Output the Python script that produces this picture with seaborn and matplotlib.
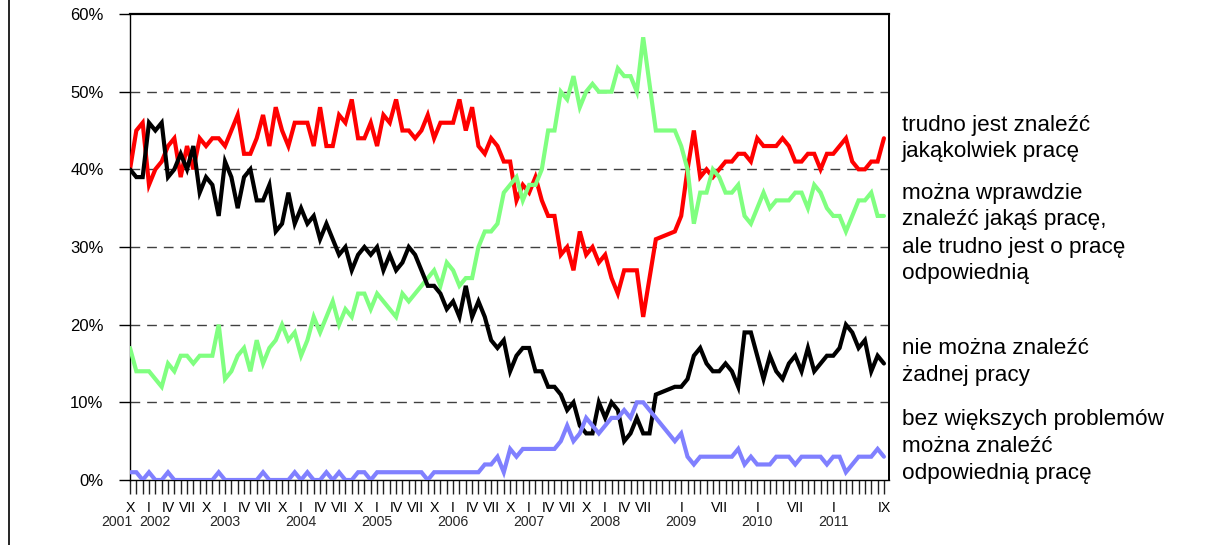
import matplotlib
matplotlib.use("Agg")
import matplotlib.pyplot as plt
import seaborn as sns
import pandas as pd
from matplotlib.lines import Line2D
from matplotlib.transforms import blended_transform_factory

# ---------------- data ----------------
# month index: 0 = X 2001 ... 119 = IX 2011 (no surveys in months 84, 85)
months = list(range(0, 84)) + list(range(86, 120))

red = [40, 45, 46, 38, 40, 41, 43, 44, 39, 43,
       40, 44, 43, 44, 44, 43, 45, 47, 42, 42,
       44, 47, 43, 48, 45, 43, 46, 46, 46, 43,
       48, 43, 43, 47, 46, 49, 44, 44, 46, 43,
       47, 46, 49, 45, 45, 44, 45, 47, 44, 46,
       46, 46, 49, 45, 48, 43, 42, 44, 43, 41,
       41, 36, 38, 37, 39, 36, 34, 34, 29, 30,
       27, 32, 29, 30, 28, 29, 26, 24, 27, 27,
       27, 21, 26, 31,
       32, 34, 40, 45,
       39, 40, 39, 40, 41, 41, 42, 42, 41, 44,
       43, 43, 43, 44, 43, 41, 41, 42, 42, 40,
       42, 42, 43, 44, 41, 40, 40, 41, 41, 44]

green = [17, 14, 14, 14, 13, 12, 15, 14, 16, 16,
         15, 16, 16, 16, 20, 13, 14, 16, 17, 14,
         18, 15, 17, 18, 20, 18, 19, 16, 18, 21,
         19, 21, 23, 20, 22, 21, 24, 24, 22, 24,
         23, 22, 21, 24, 23, 24, 25, 26, 27, 25,
         28, 27, 25, 26, 26, 30, 32, 32, 33, 37,
         38, 39, 36, 38, 38, 40, 45, 45, 50, 49,
         52, 48, 50, 51, 50, 50, 50, 53, 52, 52,
         50, 57, 51, 45,
         45, 43, 40, 33,
         37, 37, 40, 39, 37, 37, 38, 34, 33, 35,
         37, 35, 36, 36, 36, 37, 37, 35, 38, 37,
         35, 34, 34, 32, 34, 36, 36, 37, 34, 34]

black = [40, 39, 39, 46, 45, 46, 39, 40, 42, 40,
         43, 37, 39, 38, 34, 41, 39, 35, 39, 40,
         36, 36, 38, 32, 33, 37, 33, 35, 33, 34,
         31, 33, 31, 29, 30, 27, 29, 30, 29, 30,
         27, 29, 27, 28, 30, 29, 27, 25, 25, 24,
         22, 23, 21, 25, 21, 23, 21, 18, 17, 18,
         14, 16, 17, 17, 14, 14, 12, 12, 11, 9,
         10, 7, 6, 6, 10, 8, 10, 9, 5, 6,
         8, 6, 6, 11,
         12, 12, 13, 16,
         17, 15, 14, 14, 15, 14, 12, 19, 19, 16,
         13, 16, 14, 13, 15, 16, 14, 17, 14, 15,
         16, 16, 17, 20, 19, 17, 18, 14, 16, 15]

blue = [1, 1, 0, 1, 0, 0, 1, 0, 0, 0,
        0, 0, 0, 0, 1, 0, 0, 0, 0, 0,
        0, 1, 0, 0, 0, 0, 1, 0, 1, 0,
        0, 1, 0, 1, 0, 0, 1, 1, 0, 1,
        1, 1, 1, 1, 1, 1, 1, 0, 1, 1,
        1, 1, 1, 1, 1, 1, 2, 2, 3, 1,
        4, 3, 4, 4, 4, 4, 4, 4, 5, 7,
        5, 6, 8, 7, 6, 7, 8, 8, 9, 8,
        10, 10, 9, 8,
        5, 6, 3, 2,
        3, 3, 3, 3, 3, 3, 4, 2, 3, 2,
        2, 2, 3, 3, 3, 2, 3, 3, 3, 3,
        2, 3, 3, 1, 2, 3, 3, 3, 4, 3]

series_labels = [
    ["trudno jest znaleźć", "jakąkolwiek pracę"],
    ["można wprawdzie", "znaleźć jakąś pracę,", "ale trudno jest o pracę", "odpowiednią"],
    ["nie można znaleźć", "żadnej pracy"],
    ["bez większych problemów", "można znaleźć", "odpowiednią pracę"],
]
series_values = [red, green, black, blue]
series_colors = ["#FF0000", "#80FF80", "#000000", "#8080FF"]

month_label_pos = [0, 3, 6, 9, 12, 15, 18, 21, 24, 27, 30, 33, 36, 39, 42, 45,
                   48, 51, 54, 57, 60, 63, 66, 69, 72, 75, 78, 81,
                   87, 93, 99, 105, 111, 119]
month_label_txt = ["X", "I", "IV", "VII", "X", "I", "IV", "VII", "X", "I", "IV", "VII",
                   "X", "I", "IV", "VII", "X", "I", "IV", "VII", "X", "I", "IV", "VII",
                   "X", "I", "IV", "VII", "I", "VII", "I", "VII", "I", "IX"]
year_pos = [-2, 4, 15, 27, 39, 51, 63, 75, 87, 99, 111]
year_txt = ["2001", "2002", "2003", "2004", "2005", "2006", "2007", "2008", "2009", "2010", "2011"]
y_ticks = [0, 10, 20, 30, 40, 50, 60]

# ---------------- figure ----------------
sns.set_style("white")
plt.rcParams['font.family'] = ['Liberation Sans', 'DejaVu Sans']

W, H = 1214, 545
fig = plt.figure(figsize=(W / 100, H / 100), dpi=100)
ax = fig.add_axes([130 / W, 65 / H, 759 / W, 466 / H])

frames = []
for i, vals in enumerate(series_values):
    frames.append(pd.DataFrame({"month": months, "value": vals, "series": i}))
df = pd.concat(frames, ignore_index=True)

draw_order = [1, 0, 2, 3]
for i in draw_order:
    sub = df[df["series"] == i]
    sns.lineplot(data=sub, x="month", y="value", color=series_colors[i],
                 linewidth=3.0, ax=ax, legend=False, estimator=None,
                 solid_joinstyle="miter", zorder=3 + i)

ax.set_xlim(0, 119.8)
ax.set_ylim(0, 60)
ax.set_xlabel("")
ax.set_ylabel("")

# y axis
ax.set_yticks(y_ticks)
ax.set_yticklabels([f"{v}%" for v in y_ticks])
ax.tick_params(axis="y", direction="out", length=8, width=1, color="black",
               pad=11, labelsize=12, labelcolor="black", left=True)
for v in y_ticks[1:-1]:
    ax.axhline(v, color="#404040", linewidth=1.0, linestyle=(0, (7, 5)), zorder=1)

# x axis
lab_map = dict(zip(month_label_pos, month_label_txt))
ax.set_xticks(list(range(120)))
ax.set_xticklabels([lab_map.get(m, "") for m in range(120)])
ax.tick_params(axis="x", direction="out", length=10, width=1, color="#222222",
               pad=5, labelsize=10.2, labelcolor="black", bottom=True)

tr = blended_transform_factory(ax.transData, fig.transFigure)
for p, t in zip(year_pos, year_txt):
    fig.text(p, 1 - 515 / H, t, transform=tr, ha="center", va="top", fontsize=10.2)

for s in ax.spines.values():
    s.set_color("black")
    s.set_linewidth(1.0)
ax.spines["top"].set_linewidth(1.6)
ax.spines["right"].set_linewidth(1.4)

# right-hand labels
label_line_y = [[125, 152], [193, 220, 247, 273], [348, 375], [420, 447, 473]]
for lines, ys in zip(series_labels, label_line_y):
    for txt, yy in zip(lines, ys):
        fig.text(902 / W, 1 - yy / H, txt, ha="left", va="center", fontsize=16.2,
                 color="black")

# left border line of the original frame
fig.add_artist(Line2D([8.5 / W, 8.5 / W], [0, 1], color="black", linewidth=1.2))

fig.savefig("out.png", dpi=100)
